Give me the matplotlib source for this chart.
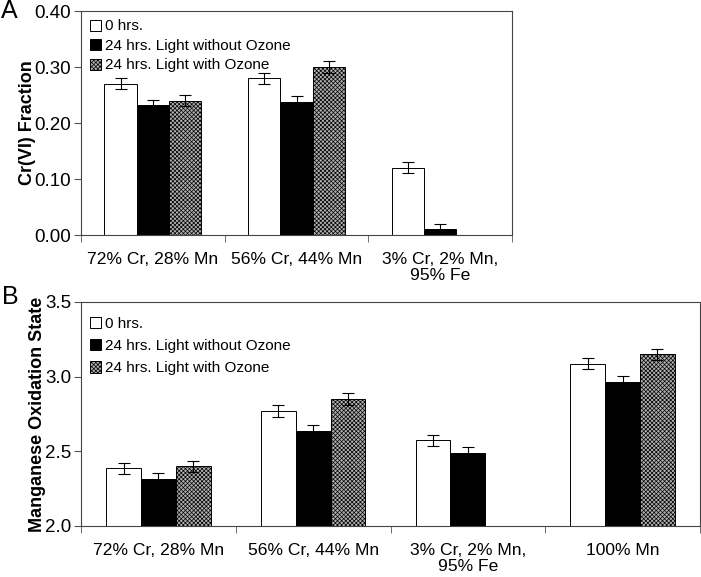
import numpy as np
import matplotlib.pyplot as plt

plt.rcParams['font.family'] = ['Liberation Sans', 'DejaVu Sans']
plt.rcParams['hatch.linewidth'] = 0.5

series = ["0 hrs.", "24 hrs. Light without Ozone", "24 hrs. Light with Ozone"]

cats_a = ["72% Cr, 28% Mn", "56% Cr, 44% Mn", "3% Cr, 2% Mn,\n95% Fe"]
vals_a = [
    [0.270, 0.280, 0.120],
    [0.232, 0.238, 0.010],
    [0.240, 0.300, np.nan],
]
err_a = [
    [0.010, 0.010, 0.010],
    [0.009, 0.011, 0.010],
    [0.010, 0.010, np.nan],
]

cats_b = ["72% Cr, 28% Mn", "56% Cr, 44% Mn", "3% Cr, 2% Mn,\n95% Fe", "100% Mn"]
vals_b = [
    [2.386, 2.770, 2.574, 3.087],
    [2.313, 2.636, 2.490, 2.962],
    [2.400, 2.850, np.nan, 3.150],
]
err_b = [
    [0.038, 0.038, 0.038, 0.038],
    [0.040, 0.038, 0.038, 0.040],
    [0.038, 0.040, np.nan, 0.038],
]

styles = [
    dict(facecolor="white", edgecolor="black"),
    dict(facecolor="black", edgecolor="black"),
    dict(facecolor="#b0b0b0", edgecolor="black", hatch="xxxxxxxx"),
]


def draw_panel(ax, cats, vals, errs, ylim, yticks, fmt, ylabel, legend_spacing, legend_top):
    x = np.arange(len(cats))
    w = 0.225
    for i, (v, e) in enumerate(zip(vals, errs)):
        pos = x + (i - 1) * w
        ax.bar(pos, v, w, linewidth=0.7, label=series[i], **styles[i])
        ax.errorbar(pos, v, yerr=e, fmt="none", ecolor="black",
                    elinewidth=0.8, capsize=4, capthick=0.8)
    ax.set_xlim(-0.5, len(cats) - 0.5)
    ax.set_ylim(*ylim)
    ax.set_yticks(yticks)
    ax.set_yticklabels([fmt.format(t) for t in yticks], fontsize=13.5)
    ax.set_xticks(x)
    ax.set_xticklabels(cats, fontsize=12.6, linespacing=1.1)
    ax.tick_params(axis="x", which="major", length=0, pad=12)
    ax.set_xticks(np.arange(len(cats) + 1) - 0.5, minor=True)
    ax.tick_params(axis="x", which="minor", length=5, direction="out", color="#555555")
    ax.tick_params(axis="y", length=5, direction="out", color="#555555", pad=2)
    for s in ax.spines.values():
        s.set_color("#444444")
        s.set_linewidth(0.8)
    ax.set_ylabel(ylabel, fontsize=13, fontweight="bold", labelpad=-1)
    # legend anchored in pixels from the axes top-left corner
    h = ax.bbox.height
    ax.legend(loc="upper left", frameon=False, fontsize=11, handlelength=0.75,
              handleheight=0.75, handletextpad=0.25, labelspacing=legend_spacing,
              borderaxespad=0, borderpad=0,
              bbox_to_anchor=(9 / ax.bbox.width, 1 - legend_top / h))


fig = plt.figure(figsize=(7.01, 5.77), dpi=100)
ax_a = fig.add_axes([81 / 701, 1 - 235 / 577, 431 / 701, 224 / 577])
ax_b = fig.add_axes([81 / 701, 1 - 526 / 577, 619 / 701, 224 / 577])

draw_panel(ax_a, cats_a, vals_a, err_a, (0, 0.40), [0, 0.1, 0.2, 0.3, 0.4],
           "{:.2f}", "Cr(VI) Fraction", 0.36, 8.5)
draw_panel(ax_b, cats_b, vals_b, err_b, (2.0, 3.5), [2.0, 2.5, 3.0, 3.5],
           "{:.1f}", "Manganese Oxidation State", 0.55, 14.5)

fig.text(1 / 701, 1 - 11 / 577, "A", fontsize=18, va="center", ha="left")
fig.text(2 / 701, 1 - 297 / 577, "B", fontsize=18, va="center", ha="left")

fig.savefig("out.png", dpi=100)
